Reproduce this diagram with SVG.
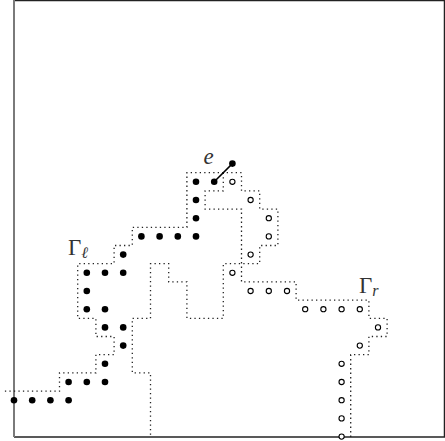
<svg xmlns="http://www.w3.org/2000/svg" width="445" height="441" viewBox="0 0 445 441">
<style>
.frame{fill:none;stroke:#222;stroke-width:1.3}
.dot{fill:none;stroke:#222;stroke-width:1.3;stroke-dasharray:1.3 3.2}
.f{fill:#000}
.o{fill:#fff;stroke:#000;stroke-width:1.1}
.lbl{font-family:"Liberation Serif","DejaVu Serif",serif;font-style:italic;fill:#333}
.gam{font-family:"Liberation Serif","DejaVu Serif",serif;fill:#333}
</style>
<rect width="445" height="441" fill="#fff"/>
<g id="frame">
<line x1="14" y1="0.6" x2="445" y2="0.6" class="frame"/>
<line x1="444.4" y1="0" x2="444.4" y2="437" class="frame" stroke-width="1"/>
<line x1="14" y1="437" x2="445" y2="437" class="frame"/>
<line x1="14" y1="0" x2="14" y2="437" stroke="#7a7a7a" stroke-width="2"/>
</g>
<g id="curves">
<path id="gamma-l" class="dot" d="M4.9,391.1 H59.5 V372.9 H95.9 V354.7 H114.1 V336.5 H95.9 V318.3 H77.7 V263.7 H114.1 V245.5 H132.3 V227.3 H186.9 V172.7 H241.5 V190.9 H259.7 V209.1 H277.9 V245.5 H259.7 V263.7 H223.3 V318.3 H186.9 V281.9 H168.7 V263.7 H150.5 V318.3 H132.3 V372.9 H150.5 V438"/>
<path id="gamma-r" class="dot" d="M223.3,172.7 V190.9 H205.1 V209.1 H241.5 V281.9 H296.1 V300.1 H368.9 V318.3 H387.1 V336.5 H368.9 V354.7 H350.7 V438"/>
</g>
<g id="connectors">
<line x1="214.2" y1="181.8" x2="232.4" y2="163.6" stroke="#000" stroke-width="1.5"/>
</g>
<g id="filled">
<g id="f1"><circle class="f" cx="14" cy="400.2" r="3.3"/></g>
<g id="f2"><circle class="f" cx="32.2" cy="400.2" r="3.3"/></g>
<g id="f3"><circle class="f" cx="50.4" cy="400.2" r="3.3"/></g>
<g id="f4"><circle class="f" cx="68.6" cy="400.2" r="3.3"/></g>
<g id="f5"><circle class="f" cx="68.6" cy="382" r="3.3"/></g>
<g id="f6"><circle class="f" cx="86.8" cy="382" r="3.3"/></g>
<g id="f7"><circle class="f" cx="105" cy="382" r="3.3"/></g>
<g id="f8"><circle class="f" cx="105" cy="363.8" r="3.3"/></g>
<g id="f9"><circle class="f" cx="123.2" cy="345.6" r="3.3"/></g>
<g id="f10"><circle class="f" cx="105" cy="327.4" r="3.3"/></g>
<g id="f11"><circle class="f" cx="123.2" cy="327.4" r="3.3"/></g>
<g id="f12"><circle class="f" cx="86.8" cy="309.2" r="3.3"/></g>
<g id="f13"><circle class="f" cx="105" cy="309.2" r="3.3"/></g>
<g id="f14"><circle class="f" cx="86.8" cy="291" r="3.3"/></g>
<g id="f15"><circle class="f" cx="86.8" cy="272.8" r="3.3"/></g>
<g id="f16"><circle class="f" cx="105" cy="272.8" r="3.3"/></g>
<g id="f17"><circle class="f" cx="123.2" cy="272.8" r="3.3"/></g>
<g id="f18"><circle class="f" cx="123.2" cy="254.6" r="3.3"/></g>
<g id="f19"><circle class="f" cx="141.4" cy="236.4" r="3.3"/></g>
<g id="f20"><circle class="f" cx="159.6" cy="236.4" r="3.3"/></g>
<g id="f21"><circle class="f" cx="177.8" cy="236.4" r="3.3"/></g>
<g id="f22"><circle class="f" cx="196" cy="236.4" r="3.3"/></g>
<g id="f23"><circle class="f" cx="196" cy="218.2" r="3.3"/></g>
<g id="f24"><circle class="f" cx="196" cy="200" r="3.3"/></g>
<g id="f25"><circle class="f" cx="196" cy="181.8" r="3.3"/></g>
<g id="f26"><circle class="f" cx="214.2" cy="181.8" r="3.3"/></g>
<g id="f27"><circle class="f" cx="232.4" cy="163.6" r="3.3"/></g>
</g>
<g id="open">
<g id="o1"><circle class="o" cx="232.4" cy="181.8" r="2.6"/></g>
<g id="o2"><circle class="o" cx="250.6" cy="200" r="2.6"/></g>
<g id="o3"><circle class="o" cx="268.8" cy="218.2" r="2.6"/></g>
<g id="o4"><circle class="o" cx="268.8" cy="236.4" r="2.6"/></g>
<g id="o5"><circle class="o" cx="250.6" cy="254.6" r="2.6"/></g>
<g id="o6"><circle class="o" cx="232.4" cy="272.8" r="2.6"/></g>
<g id="o7"><circle class="o" cx="250.6" cy="291" r="2.6"/></g>
<g id="o8"><circle class="o" cx="268.8" cy="291" r="2.6"/></g>
<g id="o9"><circle class="o" cx="287" cy="291" r="2.6"/></g>
<g id="o10"><circle class="o" cx="305.2" cy="309.2" r="2.6"/></g>
<g id="o11"><circle class="o" cx="323.4" cy="309.2" r="2.6"/></g>
<g id="o12"><circle class="o" cx="341.6" cy="309.2" r="2.6"/></g>
<g id="o13"><circle class="o" cx="359.8" cy="309.2" r="2.6"/></g>
<g id="o14"><circle class="o" cx="378" cy="327.4" r="2.6"/></g>
<g id="o15"><circle class="o" cx="359.8" cy="345.6" r="2.6"/></g>
<g id="o16"><circle class="o" cx="341.6" cy="363.8" r="2.6"/></g>
<g id="o17"><circle class="o" cx="341.6" cy="382" r="2.6"/></g>
<g id="o18"><circle class="o" cx="341.6" cy="400.2" r="2.6"/></g>
<g id="o19"><circle class="o" cx="341.6" cy="418.4" r="2.6"/></g>
<g id="o20"><circle class="o" cx="341.6" cy="436.6" r="2.6"/></g>
</g>
<g id="labels">
<text class="lbl" x="203.5" y="164" font-size="23">e</text>
<text class="gam" x="68" y="255" font-size="23">Γ<tspan class="lbl" font-size="16" dy="3">ℓ</tspan></text>
<text class="gam" x="359" y="292.5" font-size="23">Γ<tspan class="lbl" font-size="16" dy="3">r</tspan></text>
</g>
</svg>
